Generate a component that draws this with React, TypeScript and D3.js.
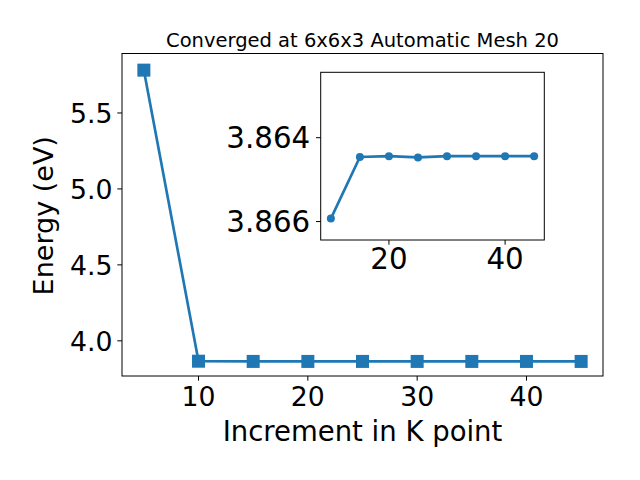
import React, { useEffect, useRef } from "react";
import * as d3 from "d3";

const kPoints = [5, 10, 15, 20, 25, 30, 35, 40, 45];
const energies = [5.782, 3.8659, 3.86446, 3.86444, 3.86447, 3.86444, 3.86444, 3.86444, 3.86444];
const insetK = [10, 15, 20, 25, 30, 35, 40, 45];
const insetE = [3.86593, 3.86446, 3.86444, 3.86447, 3.86444, 3.86444, 3.86444, 3.86444];
const mainXTicks = [10, 20, 30, 40];
const mainYTicks = [4.0, 4.5, 5.0, 5.5];
const insetXTicks = [20, 40];
const insetYTicks = [3.864, 3.866];

const COLOR = "#1f77b4";
const FONT = "'DejaVu Sans', sans-serif";

export default function App() {
  const ref = useRef<SVGSVGElement>(null);
  useEffect(() => {
    const svg = d3.select(ref.current);
    svg.selectAll("*").remove();
    svg.append("rect").attr("width", 640).attr("height", 480).attr("fill", "white");

    // main axes
    const L = 122, R = 603, T = 53.5, B = 376;
    const x = d3.scaleLinear().domain([3, 47]).range([L, R]);
    const y = d3.scaleLinear().domain([3.7685, 5.8915]).range([B, T]);
    const g = svg.append("g");

    const line = d3.line<number>().x((_, i) => x(kPoints[i])).y((d) => y(d));
    g.append("path").datum(energies).attr("d", line).attr("fill", "none")
      .attr("stroke", COLOR).attr("stroke-width", 2.67);
    const s = 13;
    g.selectAll("rect.m").data(energies).enter().append("rect")
      .attr("x", (_, i) => x(kPoints[i]) - s / 2).attr("y", (d) => y(d) - s / 2)
      .attr("width", s).attr("height", s).attr("fill", COLOR);

    g.append("rect").attr("x", L).attr("y", T).attr("width", R - L).attr("height", B - T)
      .attr("fill", "none").attr("stroke", "black").attr("stroke-width", 1);

    mainXTicks.forEach((t) => {
      g.append("line").attr("x1", x(t)).attr("x2", x(t)).attr("y1", B).attr("y2", B + 4.7)
        .attr("stroke", "black");
      g.append("text").attr("x", x(t)).attr("y", B + 30).attr("text-anchor", "middle")
        .attr("font-size", 26.7).attr("font-family", FONT).text(String(t));
    });
    mainYTicks.forEach((t) => {
      g.append("line").attr("x1", L - 4.7).attr("x2", L).attr("y1", y(t)).attr("y2", y(t))
        .attr("stroke", "black");
      g.append("text").attr("x", L - 9.5).attr("y", y(t) + 9.7).attr("text-anchor", "end")
        .attr("font-size", 26.7).attr("font-family", FONT).text(t.toFixed(1));
    });
    g.append("text").attr("x", (L + R) / 2).attr("y", 441).attr("text-anchor", "middle")
      .attr("font-size", 27.5).attr("font-family", FONT).text("Increment in K point");
    g.append("text").attr("transform", `translate(53.3,${(T + B) / 2 + 1}) rotate(-90)`)
      .attr("text-anchor", "middle").attr("font-size", 27).attr("font-family", FONT)
      .text("Energy (eV)");
    g.append("text").attr("x", (L + R) / 2).attr("y", 47).attr("text-anchor", "middle")
      .attr("font-size", 19.5).attr("font-family", FONT)
      .text("Converged at 6x6x3 Automatic Mesh 20");

    // inset
    const iL = 320.7, iR = 544.3, iT = 72.3, iB = 240;
    const xi = d3.scaleLinear().domain([8.25, 46.75]).range([iL, iR]);
    const yi = d3.scaleLinear().domain([3.86244, 3.86644]).range([iT, iB]);
    const gi = svg.append("g");
    gi.append("rect").attr("x", iL).attr("y", iT).attr("width", iR - iL).attr("height", iB - iT)
      .attr("fill", "white").attr("stroke", "none");
    const iline = d3.line<number>().x((_, i) => xi(insetK[i])).y((d) => yi(d));
    gi.append("path").datum(insetE).attr("d", iline).attr("fill", "none")
      .attr("stroke", COLOR).attr("stroke-width", 2.67);
    gi.selectAll("circle").data(insetE).enter().append("circle")
      .attr("cx", (_, i) => xi(insetK[i])).attr("cy", (d) => yi(d)).attr("r", 4)
      .attr("fill", COLOR);
    gi.append("rect").attr("x", iL).attr("y", iT).attr("width", iR - iL).attr("height", iB - iT)
      .attr("fill", "none").attr("stroke", "black").attr("stroke-width", 1);
    insetXTicks.forEach((t) => {
      gi.append("line").attr("x1", xi(t)).attr("x2", xi(t)).attr("y1", iB).attr("y2", iB + 4.7)
        .attr("stroke", "black");
      gi.append("text").attr("x", xi(t)).attr("y", iB + 29).attr("text-anchor", "middle")
        .attr("font-size", 29.3).attr("font-family", FONT).text(String(t));
    });
    insetYTicks.forEach((t) => {
      gi.append("line").attr("x1", iL - 4.7).attr("x2", iL).attr("y1", yi(t)).attr("y2", yi(t))
        .attr("stroke", "black");
      gi.append("text").attr("x", iL - 10.5).attr("y", yi(t) + 10.6).attr("text-anchor", "end")
        .attr("font-size", 29.3).attr("font-family", FONT).text(t.toFixed(3));
    });
  }, []);
  return (
    <svg ref={ref} width={640} height={480}
      style={{ position: "absolute", left: 0, top: 0, display: "block" }} />
  );
}
